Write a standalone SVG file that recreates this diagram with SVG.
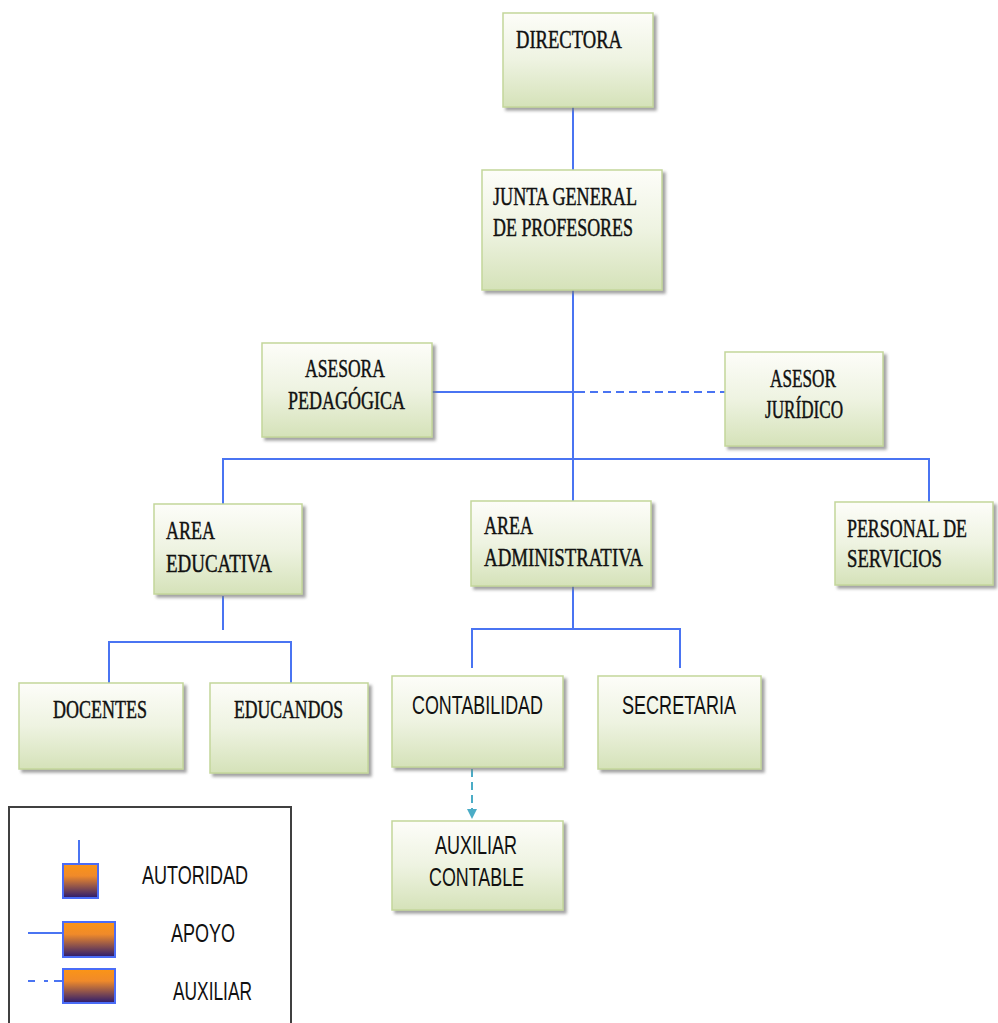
<svg xmlns="http://www.w3.org/2000/svg" width="998" height="1023" viewBox="0 0 998 1023">
<style>
.box{fill:url(#boxg);stroke:#c3d69b;stroke-width:1.5;filter:url(#sh)}
.s{font-family:"Liberation Serif","Times New Roman",serif;font-size:25px;fill:#111;stroke:#111;stroke-width:0.45}
.a{font-family:"Liberation Sans",Arial,sans-serif;font-size:25px;fill:#111}
.ln{stroke:#4a74f2;stroke-width:2;fill:none}
.leg{fill:url(#legg);stroke:#4a6cf7;stroke-width:2}
</style>
<defs>
<linearGradient id="boxg" x1="0" y1="0" x2="0" y2="1">
<stop offset="0" stop-color="#fdfdf9"/>
<stop offset="0.5" stop-color="#eef3e1"/>
<stop offset="1" stop-color="#d5e2b9"/>
</linearGradient>
<linearGradient id="legg" x1="0" y1="0" x2="0" y2="1">
<stop offset="0" stop-color="#fb9516"/>
<stop offset="0.35" stop-color="#f08a2a"/>
<stop offset="1" stop-color="#2a1a6e"/>
</linearGradient>
<filter id="sh" x="-10%" y="-10%" width="130%" height="130%">
<feDropShadow dx="3" dy="3" stdDeviation="1.5" flood-color="#7a7a7a" flood-opacity="0.7"/>
</filter>
<marker id="arr" viewBox="0 0 10 10" refX="9" refY="5" markerWidth="5" markerHeight="5" orient="auto">
<path d="M0,0 L10,5 L0,10 z" fill="#4bacc6"/>
</marker>
</defs>

<g id="connectors">
<line class="ln" x1="573" y1="107" x2="573" y2="170"/>
<line class="ln" x1="573" y1="290" x2="573" y2="501"/>
<line class="ln" x1="432" y1="392" x2="585" y2="392"/>
<line class="ln" x1="590" y1="392" x2="725" y2="392" stroke-dasharray="8,5"/>
<polyline class="ln" points="223,504 223,459 929,459 929,502"/>
<line class="ln" x1="223" y1="596" x2="223" y2="630"/>
<polyline class="ln" points="109,683 109,642 291,642 291,683"/>
<line class="ln" x1="573" y1="586" x2="573" y2="629"/>
<polyline class="ln" points="472,668 472,629 680,629 680,668"/>
<line x1="472" y1="769" x2="472" y2="818" stroke="#4bacc6" stroke-width="2" stroke-dasharray="8,5" marker-end="url(#arr)"/>
</g>

<g id="directora">
<rect class="box" x="503" y="13" width="150" height="94"/>
<text class="s" x="516" y="48" textLength="106" lengthAdjust="spacingAndGlyphs">DIRECTORA</text>
</g>
<g id="junta">
<rect class="box" x="482" y="170" width="180" height="120"/>
<text class="s" x="493" y="205" textLength="144" lengthAdjust="spacingAndGlyphs">JUNTA GENERAL</text>
<text class="s" x="493" y="236" textLength="140" lengthAdjust="spacingAndGlyphs">DE PROFESORES</text>
</g>
<g id="asesora">
<rect class="box" x="262" y="343" width="170" height="94"/>
<text class="s" x="305" y="377" textLength="80" lengthAdjust="spacingAndGlyphs">ASESORA</text>
<text class="s" x="288" y="409" textLength="117" lengthAdjust="spacingAndGlyphs">PEDAGÓGICA</text>
</g>
<g id="asesor">
<rect class="box" x="725" y="352" width="158" height="94"/>
<text class="s" x="770" y="387" textLength="66" lengthAdjust="spacingAndGlyphs">ASESOR</text>
<text class="s" x="765" y="418" textLength="78" lengthAdjust="spacingAndGlyphs">JURÍDICO</text>
</g>
<g id="area-educativa">
<rect class="box" x="154" y="504" width="148" height="90"/>
<text class="s" x="166" y="539" textLength="49" lengthAdjust="spacingAndGlyphs">AREA</text>
<text class="s" x="166" y="572" textLength="106" lengthAdjust="spacingAndGlyphs">EDUCATIVA</text>
</g>
<g id="area-administrativa">
<rect class="box" x="471" y="501" width="180" height="85"/>
<text class="s" x="484" y="534" textLength="49" lengthAdjust="spacingAndGlyphs">AREA</text>
<text class="s" x="484" y="566" textLength="159" lengthAdjust="spacingAndGlyphs">ADMINISTRATIVA</text>
</g>
<g id="personal">
<rect class="box" x="835" y="502" width="158" height="83"/>
<text class="s" x="847" y="537" textLength="120" lengthAdjust="spacingAndGlyphs">PERSONAL DE</text>
<text class="s" x="847" y="567" textLength="95" lengthAdjust="spacingAndGlyphs">SERVICIOS</text>
</g>
<g id="docentes">
<rect class="box" x="19" y="683" width="164" height="86"/>
<text class="s" x="53" y="718" textLength="94" lengthAdjust="spacingAndGlyphs">DOCENTES</text>
</g>
<g id="educandos">
<rect class="box" x="210" y="683" width="158" height="90"/>
<text class="s" x="234" y="718" textLength="109" lengthAdjust="spacingAndGlyphs">EDUCANDOS</text>
</g>
<g id="contabilidad">
<rect class="box" x="392" y="676" width="171" height="91"/>
<text class="a" x="412" y="714" textLength="131" lengthAdjust="spacingAndGlyphs">CONTABILIDAD</text>
</g>
<g id="secretaria">
<rect class="box" x="598" y="676" width="163" height="93"/>
<text class="a" x="622" y="714" textLength="114" lengthAdjust="spacingAndGlyphs">SECRETARIA</text>
</g>
<g id="auxiliar-contable">
<rect class="box" x="392" y="821" width="171" height="89"/>
<text class="a" x="435" y="854" textLength="82" lengthAdjust="spacingAndGlyphs">AUXILIAR</text>
<text class="a" x="429" y="886" textLength="95" lengthAdjust="spacingAndGlyphs">CONTABLE</text>
</g>

<g id="legend">
<rect x="9" y="807" width="282" height="225" fill="#fff" stroke="#404040" stroke-width="2"/>
<line class="ln" x1="79" y1="840" x2="79" y2="864" stroke-width="1.5"/>
<rect class="leg" x="63" y="864" width="35" height="34"/>
<text class="a" x="142" y="884" textLength="106" lengthAdjust="spacingAndGlyphs">AUTORIDAD</text>
<line class="ln" x1="28" y1="933" x2="63" y2="933" stroke-width="1.5"/>
<rect class="leg" x="63" y="922" width="52" height="35"/>
<text class="a" x="171" y="942" textLength="64" lengthAdjust="spacingAndGlyphs">APOYO</text>
<line class="ln" x1="28" y1="981" x2="63" y2="981" stroke-width="2.5" stroke-dasharray="7,9,4,6,9"/>
<rect class="leg" x="63" y="969" width="52" height="34"/>
<text class="a" x="173" y="1000" textLength="79" lengthAdjust="spacingAndGlyphs">AUXILIAR</text>
</g>
</svg>
